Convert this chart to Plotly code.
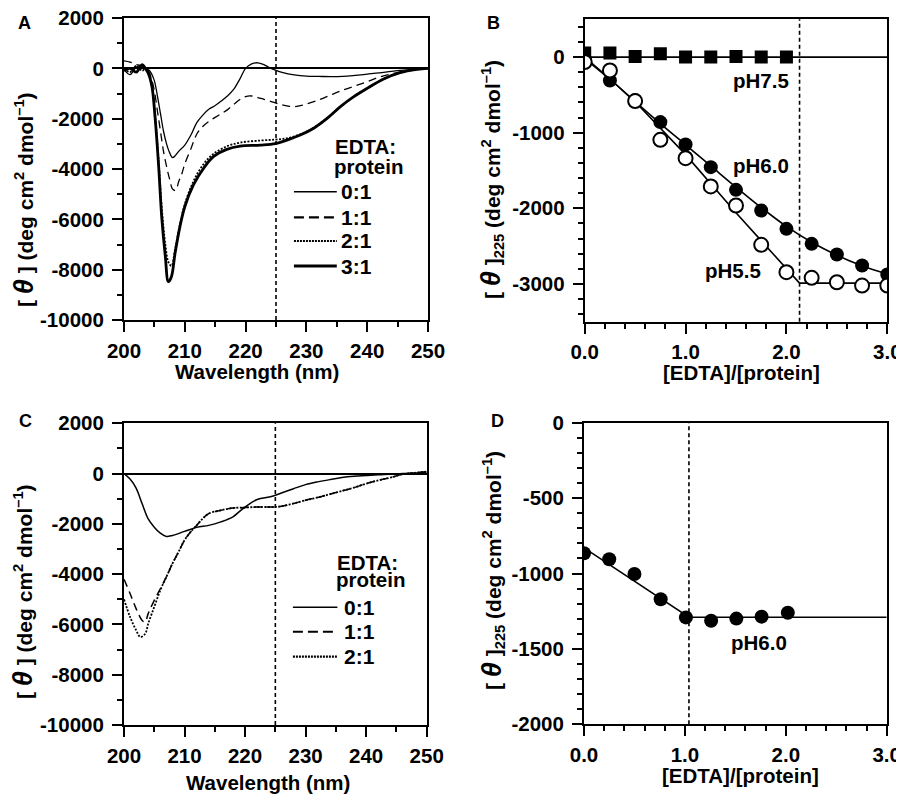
import plotly.graph_objects as go

# ---------------- Panel A data ----------------
wl_a_01 = [200, 201, 202, 203, 203.5, 204, 204.5, 205, 205.5, 206, 206.5, 207, 207.5, 208, 208.5, 209, 210,
           211, 212, 213, 214, 215, 216, 217, 218, 219, 220, 221, 222, 223, 224, 225, 226, 228, 230, 232,
           234, 236, 238, 240, 242, 244, 246, 248, 250]
th_a_01 = [-50, -250, 50, 100, 0, -50, -200, -500, -1100, -1800, -2500, -3000, -3350, -3550, -3450, -3300,
           -3050, -2650, -2150, -1850, -1620, -1480, -1300, -1100, -850, -450, 0, 180, 220, 150, 20, -80,
           -160, -260, -310, -320, -330, -320, -280, -230, -180, -120, -70, -30, 0]

wl_a_11 = [200, 201, 202, 203, 203.5, 204, 204.5, 205, 205.5, 206, 206.5, 207, 207.5, 208, 208.5, 209,
           209.5, 210, 211, 212, 213, 214, 215, 216, 217, 218, 219, 220, 221, 222, 223, 224, 225, 226, 227,
           228, 229, 230, 232, 234, 236, 238, 240, 242, 244, 246, 248, 250]
th_a_11 = [300, 250, 150, 100, 50, -100, -400, -900, -1700, -2500, -3300, -3900, -4400, -4800, -4850, -4500,
           -4200, -3800, -3200, -2600, -2300, -2100, -1950, -1800, -1650, -1450, -1250, -1120, -1100, -1160,
           -1230, -1300, -1380, -1450, -1500, -1520, -1480, -1420, -1260, -1060, -860, -700, -530, -350,
           -220, -120, -40, 0]

wl_a_21 = [200, 201, 202, 203, 203.5, 204, 204.6, 205.1, 205.7, 206.2, 206.8, 207.3, 207.8, 208.4, 209.2,
           210, 211.4, 213.1, 214.7, 216.9, 219.1, 222.4, 224.9, 226.8, 229, 231.2, 233.4, 235.6, 237.8,
           240, 242.7, 245.4, 248.2, 250]
th_a_21 = [0, -150, 100, -100, 0, -100, -700, -1800, -3700, -5500, -7000, -7700, -7850, -7200, -6200, -5400,
           -4500, -3800, -3400, -3100, -2950, -2870, -2830, -2780, -2620, -2360, -1980, -1520, -1125, -795,
           -424, -172, -40, 0]

wl_a_31 = [200, 201, 202, 203, 203.5, 204, 204.6, 205.1, 205.7, 206.2, 206.8, 207.3, 207.8, 208.4, 209.2,
           210, 211.4, 213.1, 214.7, 216.9, 219.1, 222.4, 224.9, 226.8, 229, 231.2, 233.4, 235.6, 237.8,
           240, 242.7, 245.4, 248.2, 250]
th_a_31 = [-100, 0, -150, 150, 0, -200, -730, -1920, -3900, -5900, -7480, -8480, -8280, -7350, -6290, -5500,
           -4640, -3970, -3510, -3220, -3090, -3050, -2990, -2850, -2650, -2380, -1990, -1520, -1125, -795,
           -424, -172, -40, 0]

# ---------------- Panel C data ----------------
wl_c_01 = [200, 201, 202, 203, 204, 205, 206, 207, 208, 210, 212, 214, 216, 218, 219, 220, 222, 224, 225,
           226, 228, 230, 232, 234, 236, 238, 240, 242, 244, 246, 248, 250]
th_c_01 = [0, -220, -580, -1200, -1800, -2130, -2370, -2500, -2460, -2300, -2140, -2060, -1920, -1720,
           -1520, -1330, -1030, -930, -860, -770, -600, -440, -330, -240, -160, -110, -80, -50, -30, 0, 20, 50]

wl_c_11 = [200, 201, 202, 203, 203.5, 204, 205, 206, 207, 208, 209, 210, 211, 212, 213, 214, 216, 218, 220,
           222, 224, 225, 226, 228, 230, 232, 234, 236, 238, 240, 242, 244, 246, 248, 250]
th_c_11 = [-4200, -4770, -5370, -5840, -5900, -5570, -5040, -4580, -4110, -3580, -3120, -2650, -2320, -2060,
           -1790, -1590, -1460, -1370, -1350, -1330, -1330, -1330, -1300, -1190, -1060, -950, -820, -690,
           -560, -400, -270, -160, -30, 30, 80]

wl_c_21 = [200, 201, 202, 202.7, 203.5, 204, 205, 206, 207, 208, 209, 210, 211, 212, 213, 214, 216, 218, 220,
           222, 224, 225, 226, 228, 230, 232, 234, 236, 238, 240, 242, 244, 246, 248, 250]
th_c_21 = [-5000, -5700, -6230, -6500, -6370, -5970, -5300, -4640, -4110, -3580, -3120, -2650, -2320, -2060,
           -1790, -1590, -1460, -1370, -1350, -1330, -1330, -1330, -1300, -1190, -1060, -950, -820, -690,
           -560, -400, -270, -160, -30, 30, 80]

# ---------------- Panel B data ----------------
ratio_b75 = [0.0, 0.25, 0.5, 0.75, 1.0, 1.25, 1.5, 1.75, 2.0]
th_b75 = [53, 53, 9, 44, 0, 0, 9, 0, 0]
ratio_b60 = [0.0, 0.25, 0.5, 0.75, 1.0, 1.25, 1.5, 1.75, 2.0, 2.25, 2.5, 2.75, 3.0]
th_b60 = [-20, -309, -570, -860, -1156, -1456, -1756, -2030, -2272, -2470, -2611, -2757, -2876]
ratio_b55 = [0.0, 0.25, 0.5, 0.75, 1.0, 1.25, 1.5, 1.75, 2.0, 2.25, 2.5, 2.75, 3.0]
th_b55 = [-66, -176, -582, -1094, -1337, -1711, -1963, -2483, -2845, -2920, -2978, -3022, -3022]

fit_b75_x = [0.0, 3.0]
fit_b75_y = [0, 0]
fit_b60_x = [0.0, 0.25, 0.5, 0.75, 1.0, 1.25, 1.5, 1.75, 2.0, 2.25, 2.5, 2.75, 3.0]
fit_b60_y = [0, -290, -590, -880, -1160, -1440, -1720, -1990, -2240, -2450, -2620, -2760, -2870]
fit_b55_x = [0.0, 0.25, 0.5, 1.0, 1.5, 2.13, 3.0]
fit_b55_y = [-20, -290, -590, -1290, -2060, -2990, -2990]

# ---------------- Panel D data ----------------
ratio_d = [0.0, 0.25, 0.5, 0.76, 1.01, 1.26, 1.51, 1.76, 2.02]
th_d = [-866, -906, -1003, -1171, -1291, -1313, -1299, -1286, -1260]
fit_d_x = [0.0, 1.04, 3.0]
fit_d_y = [-830, -1290, -1290]

# ---------------- Ticks / labels ----------------
wl_ticks = [200, 210, 220, 230, 240, 250]
wl_ticktext = ["200", "210", "220", "230", "240", "250"]
th_ticks_ac = [2000, 0, -2000, -4000, -6000, -8000, -10000]
th_ticktext_ac = ["2000", "0", "-2000", "-4000", "-6000", "-8000", "-10000"]
ratio_ticks = [0, 1, 2, 3]
ratio_ticktext = ["0.0", "1.0", "2.0", "3.0"]
th_ticks_b = [0, -1000, -2000, -3000]
th_ticktext_b = ["0", "-1000", "-2000", "-3000"]
th_ticks_d = [0, -500, -1000, -1500, -2000]
th_ticktext_d = ["0", "-500", "-1000", "-1500", "-2000"]
ratios_a = ["0:1", "1:1", "2:1", "3:1"]
ratios_c = ["0:1", "1:1", "2:1"]

# page body has an 8px margin: figure is sized and positioned to compensate
OX, OY = 8, 8
W, H = 896, 787
FONT = "Liberation Sans, Arial, Helvetica, sans-serif"
FS = 20.5


def px(x):
    return (x - OX) / W


def py(y):
    return 1 - (y - OY) / H


fig = go.Figure()

# Panel A curves
fig.add_trace(go.Scatter(x=wl_a_01, y=th_a_01, mode="lines", line=dict(color="black", width=1.3, shape="spline"), xaxis="x", yaxis="y"))
fig.add_trace(go.Scatter(x=wl_a_11, y=th_a_11, mode="lines", line=dict(color="black", width=1.3, dash="8px,5px", shape="spline"), xaxis="x", yaxis="y"))
fig.add_trace(go.Scatter(x=wl_a_21, y=th_a_21, mode="lines", line=dict(color="black", width=1.8, dash="2px,1.5px", shape="spline"), xaxis="x", yaxis="y"))
fig.add_trace(go.Scatter(x=wl_a_31, y=th_a_31, mode="lines", line=dict(color="black", width=2.8, shape="spline"), xaxis="x", yaxis="y"))

# Panel B
fig.add_trace(go.Scatter(x=fit_b75_x, y=fit_b75_y, mode="lines", line=dict(color="black", width=1.6), xaxis="x2", yaxis="y2"))
fig.add_trace(go.Scatter(x=fit_b60_x, y=fit_b60_y, mode="lines", line=dict(color="black", width=1.6, shape="spline"), xaxis="x2", yaxis="y2"))
fig.add_trace(go.Scatter(x=fit_b55_x, y=fit_b55_y, mode="lines", line=dict(color="black", width=1.6), xaxis="x2", yaxis="y2"))
fig.add_trace(go.Scatter(x=ratio_b75, y=th_b75, mode="markers", marker=dict(symbol="square", size=13, color="black"), xaxis="x2", yaxis="y2"))
fig.add_trace(go.Scatter(x=ratio_b60, y=th_b60, mode="markers", marker=dict(symbol="circle", size=14, color="black"), xaxis="x2", yaxis="y2"))
fig.add_trace(go.Scatter(x=ratio_b55, y=th_b55, mode="markers", marker=dict(symbol="circle", size=14, color="white", line=dict(color="black", width=2)), xaxis="x2", yaxis="y2"))

# Panel C
fig.add_trace(go.Scatter(x=wl_c_01, y=th_c_01, mode="lines", line=dict(color="black", width=1.5, shape="spline"), xaxis="x3", yaxis="y3"))
fig.add_trace(go.Scatter(x=wl_c_11, y=th_c_11, mode="lines", line=dict(color="black", width=1.5, dash="8px,5px", shape="spline"), xaxis="x3", yaxis="y3"))
fig.add_trace(go.Scatter(x=wl_c_21, y=th_c_21, mode="lines", line=dict(color="black", width=1.8, dash="2px,1.5px", shape="spline"), xaxis="x3", yaxis="y3"))

# Panel D
fig.add_trace(go.Scatter(x=fit_d_x, y=fit_d_y, mode="lines", line=dict(color="black", width=1.6), xaxis="x4", yaxis="y4"))
fig.add_trace(go.Scatter(x=ratio_d, y=th_d, mode="markers", marker=dict(symbol="circle", size=14, color="black"), xaxis="x4", yaxis="y4"))

tickfont = dict(family=FONT, size=FS, color="black", weight="bold")


def xax(dom, rng, tv, tt, mdt, anchor):
    return dict(domain=dom, range=rng, tickvals=tv, ticktext=tt, anchor=anchor, automargin=False,
                showline=True, linecolor="black", linewidth=2, mirror=True, ticklabeloverflow="allow",
                ticks="outside", ticklen=10, tickwidth=1.5, tickcolor="black", ticklabelstandoff=1,
                minor=dict(ticks="outside", ticklen=5, tickwidth=1.5, tickcolor="black", dtick=mdt),
                showgrid=False, zeroline=False, tickfont=tickfont)


def yax(dom, rng, tv, tt, mdt, anchor, zl=False):
    return dict(domain=dom, range=rng, tickvals=tv, ticktext=tt, anchor=anchor, automargin=False,
                showline=True, linecolor="black", linewidth=2, mirror=True, ticklabeloverflow="allow",
                ticks="outside", ticklen=10, tickwidth=1.5, tickcolor="black", ticklabelstandoff=4,
                minor=dict(ticks="outside", ticklen=5, tickwidth=1.5, tickcolor="black", dtick=mdt),
                showgrid=False, zeroline=zl, zerolinecolor="black", zerolinewidth=1.5, tickfont=tickfont)


fig.update_layout(
    width=W, height=H, margin=dict(l=0, r=0, t=0, b=0, pad=0),
    paper_bgcolor="white", plot_bgcolor="white", showlegend=False,
    font=dict(family=FONT, size=FS, color="black"),
    xaxis=xax([px(124), px(428)], [200, 250], wl_ticks, wl_ticktext, 5, "y"),
    yaxis=yax([py(320), py(18)], [-10000, 2000], th_ticks_ac, th_ticktext_ac, 1000, "x", zl=True),
    xaxis2=xax([px(584.7), px(887.3)], [0, 3], ratio_ticks, ratio_ticktext, 0.2, "y2"),
    yaxis2=yax([py(321.7), py(19.3)], [-3500, 500], th_ticks_b, th_ticktext_b, 200, "x2"),
    xaxis3=xax([px(124), px(426.7)], [200, 250], wl_ticks, wl_ticktext, 5, "y3"),
    yaxis3=yax([py(725), py(423.3)], [-10000, 2000], th_ticks_ac, th_ticktext_ac, 1000, "x3", zl=True),
    xaxis4=xax([px(584), px(886.7)], [0, 3], ratio_ticks, ratio_ticktext, 0.2, "y4"),
    yaxis4=yax([py(724.3), py(422.7)], [-2000, 0], th_ticks_d, th_ticktext_d, 100, "x4"),
)

# vertical dotted reference lines
vdot = dict(color="black", width=1.6, dash="4px,3px")
fig.add_shape(type="line", xref="x", yref="y domain", x0=225, x1=225, y0=0, y1=1, line=vdot)
fig.add_shape(type="line", xref="x2", yref="y2 domain", x0=2.13, x1=2.13, y0=0, y1=1, line=vdot)
fig.add_shape(type="line", xref="x3", yref="y3 domain", x0=225, x1=225, y0=0, y1=1, line=vdot)
fig.add_shape(type="line", xref="x4", yref="y4 domain", x0=1.04, x1=1.04, y0=0, y1=1, line=vdot)

# Legends (panel A and C) drawn as keys
leg_styles = [dict(color="black", width=1.5), dict(color="black", width=2.2, dash="10px,5px"),
              dict(color="black", width=2.2, dash="2px,1px"), dict(color="black", width=3.2)]
rows_a = [0.4248, 0.340, 0.2616, 0.1788]
for i, lab in enumerate(ratios_a):
    fig.add_shape(type="line", xref="x domain", yref="y domain", x0=0.559, x1=0.70, y0=rows_a[i], y1=rows_a[i], line=leg_styles[i])
    fig.add_annotation(xref="x domain", yref="y domain", x=0.708, y=rows_a[i], text="<b>%s</b>" % lab,
                       showarrow=False, xanchor="left", yanchor="middle", font=dict(size=21))
fig.add_annotation(xref="x domain", yref="y domain", x=0.688, y=0.575, text="<b>EDTA:</b>", showarrow=False,
                   xanchor="left", yanchor="middle", font=dict(size=FS))
fig.add_annotation(xref="x domain", yref="y domain", x=0.685, y=0.508, text="<b>protein</b>", showarrow=False,
                   xanchor="left", yanchor="middle", font=dict(size=FS))

rows_c = [0.390, 0.309, 0.2264]
for i, lab in enumerate(ratios_c):
    fig.add_shape(type="line", xref="x3 domain", yref="y3 domain", x0=0.558, x1=0.705, y0=rows_c[i], y1=rows_c[i], line=leg_styles[i])
    fig.add_annotation(xref="x3 domain", yref="y3 domain", x=0.72, y=rows_c[i], text="<b>%s</b>" % lab,
                       showarrow=False, xanchor="left", yanchor="middle", font=dict(size=21))
fig.add_annotation(xref="x3 domain", yref="y3 domain", x=0.697, y=0.539, text="<b>EDTA:</b>", showarrow=False,
                   xanchor="left", yanchor="middle", font=dict(size=FS))
fig.add_annotation(xref="x3 domain", yref="y3 domain", x=0.694, y=0.482, text="<b>protein</b>", showarrow=False,
                   xanchor="left", yanchor="middle", font=dict(size=FS))

# pH labels
fig.add_annotation(xref="x2", yref="y2", x=1.75, y=-310, text="<b>pH7.5</b>", showarrow=False, font=dict(size=FS))
fig.add_annotation(xref="x2", yref="y2", x=1.745, y=-1434, text="<b>pH6.0</b>", showarrow=False, font=dict(size=FS))
fig.add_annotation(xref="x2", yref="y2", x=1.467, y=-2823, text="<b>pH5.5</b>", showarrow=False, font=dict(size=FS))
fig.add_annotation(xref="x4", yref="y4", x=1.738, y=-1459, text="<b>pH6.0</b>", showarrow=False, font=dict(size=FS))

# Panel letters
for lab, x, y in [("A", 24, 23), ("B", 493, 23), ("C", 25, 421), ("D", 497, 421)]:
    fig.add_annotation(xref="paper", yref="paper", x=px(x), y=py(y), text="<b>%s</b>" % lab, showarrow=False,
                       xanchor="center", yanchor="middle", font=dict(size=18))

# Axis titles
theta = "<span style='font-size:27px'><b><i>θ</i></b></span>"
ytitle_ac = "<b>[ " + theta + " ] (deg cm<sup>2</sup> dmol<sup>–1</sup>)</b>"
ytitle_bd = "<b>[ " + theta + " ]<sub>225</sub> (deg cm<sup>2</sup> dmol<sup>–1</sup>)</b>"
for txt, x, y in [(ytitle_ac, 24, 200), (ytitle_bd, 491, 180), (ytitle_ac, 23, 592), (ytitle_bd, 492, 571)]:
    fig.add_annotation(xref="paper", yref="paper", x=px(x), y=py(y), text=txt, textangle=-90, showarrow=False,
                       xanchor="center", yanchor="middle", font=dict(size=21))
for txt, x, y in [("<b>Wavelength (nm)</b>", 257, 371), ("<b>[EDTA]/[protein]</b>", 741.7, 372),
                  ("<b>Wavelength (nm)</b>", 267.5, 782), ("<b>[EDTA]/[protein]</b>", 740, 775)]:
    fig.add_annotation(xref="paper", yref="paper", x=px(x), y=py(y), text=txt, showarrow=False,
                       xanchor="center", yanchor="middle", font=dict(size=FS))

fig.write_html("out.html")
